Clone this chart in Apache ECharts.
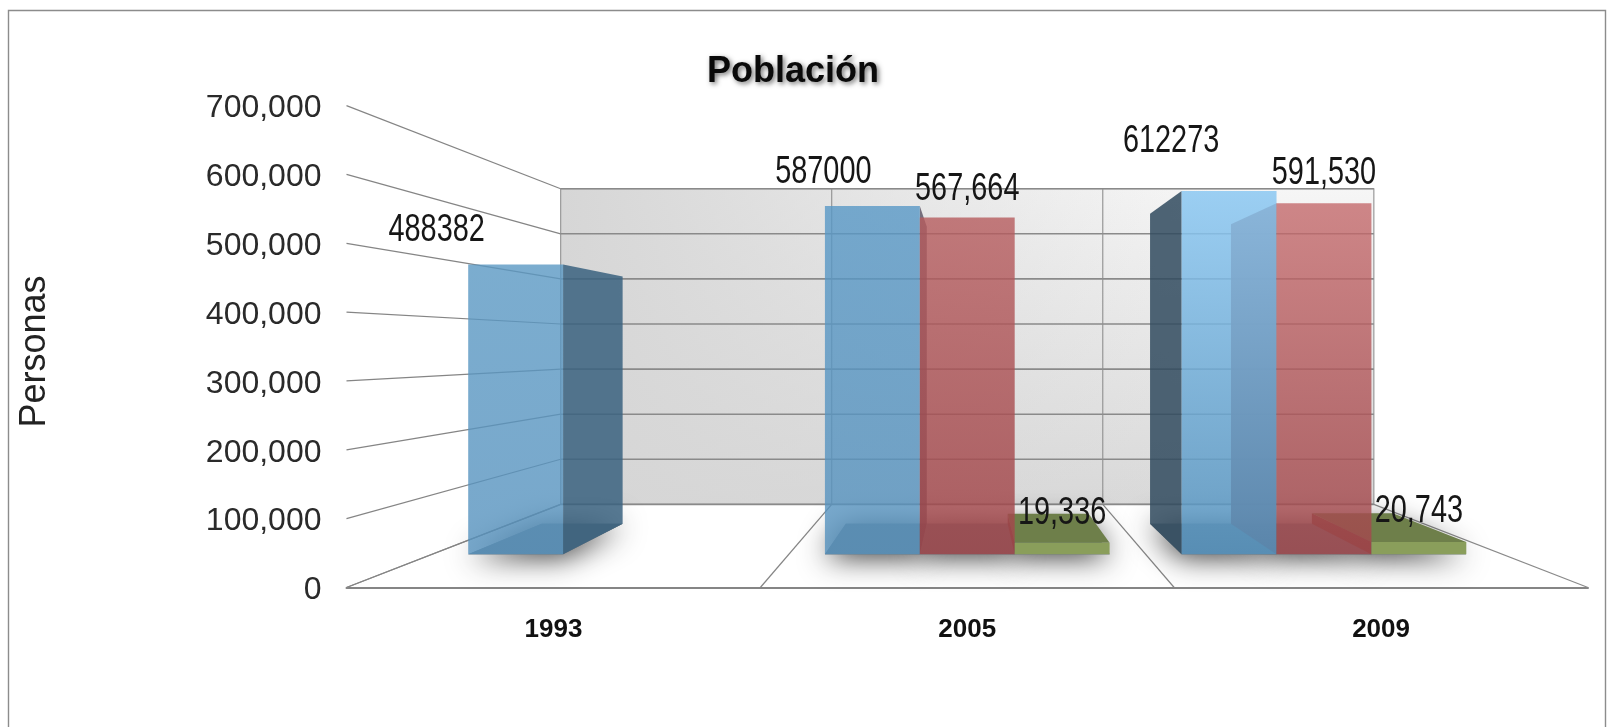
<!DOCTYPE html>
<html>
<head>
<meta charset="utf-8">
<style>
html,body{margin:0;padding:0;background:#fff;}
#chart{width:1607px;height:727px;filter:blur(0.55px);}
</style>
<script src="https://cdn.jsdelivr.net/npm/echarts@6/dist/echarts.min.js"></script>
</head>
<body>
<div id="chart"></div>
<script>
const categories = ['1993', '2005', '2009'];
const serieA = [488382, 587000, 612273];
const serieB = [null, 567664, 591530];
const serieC = [null, 19336, 20743];
const valueTicks = [0, 100000, 200000, 300000, 400000, 500000, 600000, 700000];
const allSeries = [serieA, serieB, serieC];

const S_WALL = 0.655, S_FRONT = 0.862, S_BACK = 0.735, BAR_FRAC = 0.266;
const EYE_VALUE = 350000;
const LG = (x, y, x2, y2, c0, c1) => new echarts.graphic.LinearGradient(x, y, x2, y2, [{offset: 0, color: c0}, {offset: 1, color: c1}]);

const faceStyles = [
  {
    front: [LG(0,0,0,1,'rgba(90,152,195,.8)','rgba(86,146,190,.8)'), LG(0,0,0,1,'rgba(88,152,198,.8)','rgba(86,146,190,.8)'), LG(0,0,0,1,'rgba(140,200,242,.86)','rgba(84,146,190,.84)')],
    side: ['rgba(57,97,127,.85)', 'rgba(70,60,80,.7)', 'rgba(50,76,96,.86)']
  },
  {
    front: [null, LG(0,0,0,1,'rgba(182,92,94,.8)','rgba(160,70,74,.84)'), LG(0,0,0,1,'rgba(196,106,108,.8)','rgba(160,72,76,.84)')],
    side: [null, 'rgba(125,52,54,.85)', 'rgba(125,60,60,.9)']
  },
  {
    front: [null, 'rgb(138,158,91)', 'rgb(138,158,91)'],
    side: [null, 'rgba(110,60,50,.85)', 'rgba(120,55,45,.9)'],
    top: 'rgb(110,127,74)'
  }
];
const labelOffsets = [[[-79,-34],[-49,-33],[-58,-49]], [null,[0,-28],[0,-30]], [null,[0,-29],[0,-30]]];
const labelText = [v => String(v), v => v.toLocaleString('en-US'), v => v.toLocaleString('en-US')];

function toward(v, p, s) { return [v[0] + (p[0] - v[0]) * s, v[1] + (p[1] - v[1]) * s]; }

function barGeom(api, k) {
  const cat = api.value(0), val = api.value(1);
  const base = api.coord([cat, 0]), top = api.coord([cat, val]);
  const w = api.size([1, 0])[0] * BAR_FRAC;
  const x0 = base[0] + (k - 1.5) * w, x1 = x0 + w;
  const v = api.coord([1, EYE_VALUE]);
  const P = (x, y, s) => toward(v, [x, y], s);
  return {cat, val, v, P, x0, x1, yb: base[1], yt: top[1]};
}
const poly = (points, style, z2) => ({type: 'polygon', shape: {points}, style, z2: z2 || 0, silent: true});

function renderWall(params, api) {
  const v = api.coord([1, EYE_VALUE]);
  const lo = api.coord([0, 0]), hi = api.coord([0, 700000]);
  const band = api.size([1, 0])[0];
  const L = lo[0] - band / 2, R = L + band * 3;
  const pts = [toward(v, [L, hi[1]], S_WALL), toward(v, [R, hi[1]], S_WALL), toward(v, [R, lo[1]], S_WALL), toward(v, [L, lo[1]], S_WALL)];
  const fade = new echarts.graphic.LinearGradient(0, 0, 1, 0, [{offset: 0, color: 'rgba(214,214,214,1)'}, {offset: 0.8, color: 'rgba(214,214,214,0)'}, {offset: 1, color: 'rgba(214,214,214,0)'}]);
  return {type: 'group', children: [
    poly(pts, {fill: LG(0,0,0,1,'#f6f6f6','#d9d9d9')}),
    poly(pts, {fill: fade}),
    poly(pts, {fill: 'none', stroke: '#9a9a9a', lineWidth: 1.2}),
    {type: 'line', shape: {x1: L, y1: lo[1], x2: pts[3][0], y2: pts[3][1]}, style: {stroke: '#8a8a8a', lineWidth: 1.2}},
    {type: 'line', shape: {x1: R, y1: lo[1], x2: pts[2][0], y2: pts[2][1]}, style: {stroke: '#8a8a8a', lineWidth: 1.2}}
  ]};
}
function renderTick(params, api) {
  const val = api.value(0);
  const v = api.coord([1, EYE_VALUE]);
  const p = api.coord([0, val]);
  const band = api.size([1, 0])[0];
  const L = p[0] - band / 2, R = L + band * 3;
  const a = toward(v, [L, p[1]], S_WALL), b = toward(v, [R, p[1]], S_WALL);
  return {type: 'group', children: [
    {type: 'line', shape: {x1: L, y1: p[1], x2: a[0], y2: a[1]}, style: {stroke: '#858585', lineWidth: 1.2}},
    {type: 'line', shape: {x1: a[0], y1: a[1], x2: b[0], y2: b[1]}, style: {stroke: '#8a8a8a', lineWidth: 1.6}}
  ]};
}
function renderDivider(params, api) {
  const idx = api.value(0);
  const v = api.coord([1, EYE_VALUE]);
  const lo = api.coord([idx, 0]), hi = api.coord([idx, 700000]);
  const x = lo[0] + api.size([1, 0])[0] / 2;
  const a = toward(v, [x, lo[1]], S_WALL), b = toward(v, [x, hi[1]], S_WALL);
  return {type: 'group', children: [
    {type: 'line', shape: {x1: x, y1: lo[1], x2: a[0], y2: a[1]}, style: {stroke: '#858585', lineWidth: 1.2}},
    {type: 'line', shape: {x1: a[0], y1: a[1], x2: b[0], y2: b[1]}, style: {stroke: '#8f8f8f', lineWidth: 1.1}}
  ]};
}
function renderShadow(k) {
  return function (params, api) {
    const g = barGeom(api, k), P = g.P;
    const inner = [P(g.x0, g.yb, S_BACK), P(g.x1, g.yb, S_BACK), P(g.x1, g.yb, S_FRONT), P(g.x0, g.yb, S_FRONT)];
    return poly(inner, {fill: 'rgb(108,120,128)', shadowBlur: 30, shadowColor: 'rgba(0,0,0,.85)', shadowOffsetY: 2});
  };
}
function renderBack(k) {
  return function (params, api) {
    const g = barGeom(api, k), P = g.P, st = faceStyles[k], c = g.cat;
    const children = [
      poly([P(g.x0, g.yb, S_BACK), P(g.x1, g.yb, S_BACK), P(g.x1, g.yb, S_FRONT), P(g.x0, g.yb, S_FRONT)], {fill: 'rgb(108,120,128)'})
    ];
    if (g.x0 > g.v[0]) children.push(poly([P(g.x0, g.yb, S_FRONT), P(g.x0, g.yb, S_BACK), P(g.x0, g.yt, S_BACK), P(g.x0, g.yt, S_FRONT)], {fill: st.side[c]}));
    if (g.x1 < g.v[0]) children.push(poly([P(g.x1, g.yb, S_FRONT), P(g.x1, g.yb, S_BACK), P(g.x1, g.yt, S_BACK), P(g.x1, g.yt, S_FRONT)], {fill: st.side[c]}));
    if (st.top && P(0, g.yt, S_FRONT)[1] > g.v[1]) {
      children.push(poly([P(g.x0, g.yt, S_FRONT), P(g.x1, g.yt, S_FRONT), P(g.x1, g.yt, S_BACK), P(g.x0, g.yt, S_BACK)], {fill: st.top}));
    }
    return {type: 'group', children};
  };
}
function renderFront(k) {
  return function (params, api) {
    const g = barGeom(api, k), P = g.P, st = faceStyles[k], c = g.cat;
    return poly([P(g.x0, g.yt, S_FRONT), P(g.x1, g.yt, S_FRONT), P(g.x1, g.yb, S_FRONT), P(g.x0, g.yb, S_FRONT)], {fill: st.front[c]});
  };
}
function renderLabel(k) {
  return function (params, api) {
    const g = barGeom(api, k), off = labelOffsets[k][g.cat];
    const p = g.P((g.x0 + g.x1) / 2, g.yt, S_FRONT);
    return {type: 'text', x: p[0] + off[0], y: p[1] + off[1], scaleX: 0.76, z2: 10, silent: true,
      style: {text: labelText[k](g.val), font: '38px "Liberation Sans", Arial, sans-serif', fill: '#161616',
        textAlign: 'center', textVerticalAlign: 'middle', align: 'center', verticalAlign: 'middle'}};
  };
}
const barData = a => a.map((v, i) => v === null ? null : [i, v]).filter(Boolean);
const customBase = {type: 'custom', coordinateSystem: 'cartesian2d', silent: true, clip: false, encode: {x: 0, y: 1}};

const series = [
  Object.assign({}, customBase, {name: 'wall', renderItem: renderWall, data: [[0, 0]]}),
  Object.assign({}, customBase, {name: 'ticks', renderItem: renderTick, data: valueTicks.map(t => [t]), encode: {y: 0}}),
  Object.assign({}, customBase, {name: 'dividers', renderItem: renderDivider, data: [[0], [1]], encode: {x: 0}})
];
allSeries.forEach((a, k) => series.push(Object.assign({}, customBase, {name: 'shadow' + k, renderItem: renderShadow(k), data: barData(a)})));
allSeries.forEach((a, k) => series.push(Object.assign({}, customBase, {name: 'back' + k, renderItem: renderBack(k), data: barData(a)})));
allSeries.forEach((a, k) => series.push(Object.assign({}, customBase, {name: 'front' + k, renderItem: renderFront(k), data: barData(a)})));
allSeries.forEach((a, k) => series.push(Object.assign({}, customBase, {name: 'label' + k, renderItem: renderLabel(k), data: barData(a), z: 5})));

const chart = echarts.init(document.getElementById('chart'), null, {renderer: 'canvas'});
chart.setOption({
  animation: false,
  backgroundColor: '#fff',
  title: {
    text: 'Población', left: 788, top: 49, textAlign: 'center',
    textStyle: {fontFamily: '"Liberation Sans", Arial, sans-serif', fontSize: 36, fontWeight: 'bold', color: '#0a0a0a',
      textShadowColor: 'rgba(0,0,0,.55)', textShadowBlur: 5, textShadowOffsetX: 2, textShadowOffsetY: 2}
  },
  grid: {left: 346.5, right: 19, top: 105.6, bottom: 139.5, show: false},
  xAxis: {
    type: 'category', data: categories, boundaryGap: true,
    axisLine: {show: true, lineStyle: {color: '#858585', width: 2}},
    axisTick: {show: false},
    axisLabel: {margin: 29, color: '#111', fontSize: 26, fontWeight: 'bold', fontFamily: '"Liberation Sans", Arial, sans-serif'}
  },
  yAxis: {
    type: 'value', min: 0, max: 700000, interval: 100000,
    name: 'Personas', nameLocation: 'middle', nameGap: 293, nameRotate: 90,
    nameTextStyle: {fontSize: 36, color: '#222', padding: [0, 10, 0, 0], fontFamily: '"Liberation Sans", Arial, sans-serif'},
    axisLine: {show: false}, axisTick: {show: false}, splitLine: {show: false},
    axisLabel: {margin: 25, color: '#2a2a2a', fontSize: 32, verticalAlign: 'top', lineHeight: 6, fontFamily: '"Liberation Sans", Arial, sans-serif',
      formatter: v => v.toLocaleString('en-US')}
  },
  graphic: [{type: 'rect', silent: true, z: -1, shape: {x: 8.5, y: 10.5, width: 1597, height: 780}, style: {fill: 'none', stroke: '#8c8c8c', lineWidth: 1.4}}],
  series
});
</script>
</body>
</html>
